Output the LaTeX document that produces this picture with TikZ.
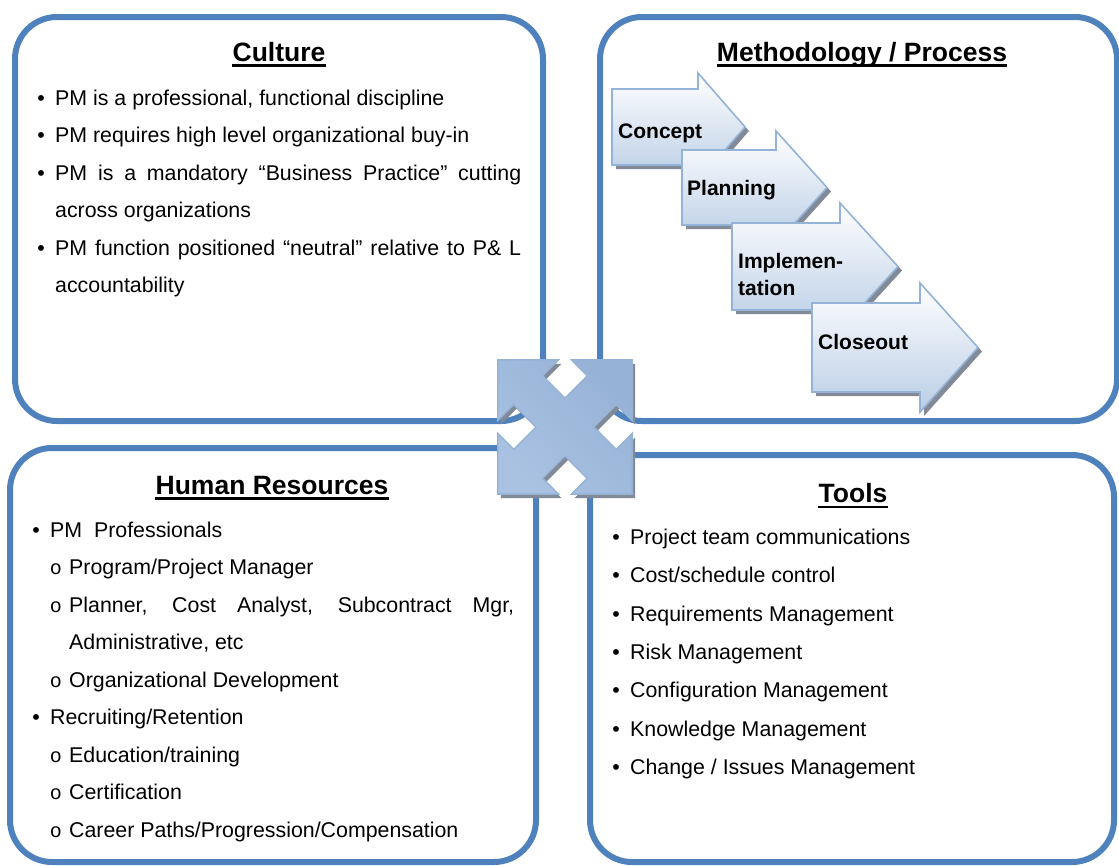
\documentclass[tikz,border=0pt]{standalone}
\usepackage{fontspec}
\setmainfont{Liberation Sans}
\newfontfamily\subbulletfont{Liberation Mono}
\usetikzlibrary{calc}
\definecolor{boxblue}{RGB}{79,129,189}
\definecolor{arrowedge}{RGB}{149,179,215}
\definecolor{arrowlow}{RGB}{185,205,229}
\definecolor{shadowgray}{RGB}{130,138,152}
\definecolor{crossdark}{RGB}{150,178,214}
\definecolor{crosslight}{RGB}{226,235,245}
\definecolor{crossmid}{RGB}{170,194,226}
\tikzset{
    panel/.style = {
        draw = boxblue,
        line width = 6pt,
        rounded corners = 42pt,
        },
    title/.style = {
        font = \fontsize{26.5}{32}\selectfont\bfseries,
        anchor = base,
        inner sep = 0pt,
        },
    title line/.style = {
        line width = 2.6pt,
        },
    entry/.style = {
        font = \fontsize{21.35}{25}\selectfont,
        anchor = base west,
        inner sep = 0pt,
        },
    dot/.style = {
        font = \fontsize{21.35}{25}\selectfont,
        anchor = base,
        inner sep = 0pt,
        },
    subdot/.style = {
        font = \fontsize{20}{25}\selectfont\subbulletfont,
        anchor = base,
        inner sep = 0pt,
        },
    stage arrow/.style = {
        preaction = {fill = shadowgray, transform canvas = {shift = {(4pt,-4pt)}}},
        draw = arrowedge,
        line width = 1.6pt,
        top color = white,
        bottom color = arrowlow,
        },
    stage label/.style = {
        font = \fontsize{21}{25}\selectfont\bfseries,
        anchor = base west,
        inner sep = 0pt,
        },
    cross/.style = {
        preaction = {fill = shadowgray, transform canvas = {shift = {(3pt,-4pt)}}},
        draw = arrowedge,
        line width = 1.4pt,
        top color = crossdark,
        middle color = crosslight,
        bottom color = crossmid,
        shading angle = -45,
        },
}
\begin{document}
\begin{tikzpicture}[x=1pt, y=-1pt]
    \useasboundingbox (0,0) rectangle (1119,865);

    % the four panels
    \draw[panel] (15,17) rectangle (543,421);
    \draw[panel] (600,17) rectangle (1117,421);
    \draw[panel] (10,448) rectangle (536,862);
    \draw[panel] (590,455) rectangle (1114,862);

    % culture
    \node[title] (culture) at (279,61) {Culture};
    \draw[title line] ([yshift=-4.5pt]culture.base west) -- ([yshift=-4.5pt]culture.base east);
    \node[dot] (cb1) at (41,105) {•};
    \node[entry] (c1) at (55,105) {PM is a professional, functional discipline};
    \node[dot] (cb2) at (41,142.5) {•};
    \node[entry] (c2) at (55,142.5) {PM requires high level organizational buy-in};
    \node[dot] (cb3) at (41,180) {•};
    \node[entry] (c3a) at (55,180) {\makebox[466pt][s]{PM is a mandatory “Business Practice” cutting}};
    \node[entry] (c3b) at (55,217.5) {across organizations};
    \node[dot] (cb4) at (41,255) {•};
    \node[entry] (c4a) at (55,255) {\makebox[466pt][s]{PM function positioned “neutral” relative to P\& L}};
    \node[entry] (c4b) at (55,292.5) {accountability};

    % methodology / process
    \node[title] (method) at (862,61) {Methodology / Process};
    \draw[title line] ([yshift=-4.5pt]method.base west) -- ([yshift=-4.5pt]method.base east);
    \path[stage arrow] (612,89) -- (698,89) -- (698,73) -- (745,127) -- (698,181) -- (698,165) -- (612,165) -- cycle;
    \node[stage label] (concept) at (618,138) {Concept};
    \path[stage arrow] (682,150) -- (776,150) -- (776,131) -- (827,187.5) -- (776,244) -- (776,225) -- (682,225) -- cycle;
    \node[stage label] (planning) at (687,195) {Planning};
    \path[stage arrow] (732,223) -- (840,223) -- (840,203) -- (898,266.5) -- (840,330) -- (840,310) -- (732,310) -- cycle;
    \node[stage label] (impl) at (738,268) {Implemen-};
    \node[stage label] (impltail) at (738,295) {tation};
    \path[stage arrow] (812,303) -- (920,303) -- (920,283) -- (978,347.5) -- (920,412) -- (920,392) -- (812,392) -- cycle;
    \node[stage label] (closeout) at (818,349) {Closeout};

    % human resources
    \node[title] (hr) at (272,494) {Human Resources};
    \draw[title line] ([yshift=-4.5pt]hr.base west) -- ([yshift=-4.5pt]hr.base east);
    \node[dot] (hb1) at (36,537) {•};
    \node[entry] (h1) at (50,537) {PM\ \ Professionals};
    \node[subdot] (hs1) at (56,574.5) {o};
    \node[entry] (h1a) at (69,574.5) {Program/Project Manager};
    \node[subdot] (hs2) at (56,612) {o};
    \node[entry] (h1b) at (69,612) {\makebox[445pt][s]{Planner, Cost Analyst, Subcontract Mgr,}};
    \node[entry] (h1bb) at (69,649.5) {Administrative, etc};
    \node[subdot] (hs3) at (56,687) {o};
    \node[entry] (h1c) at (69,687) {Organizational Development};
    \node[dot] (hb2) at (36,724.5) {•};
    \node[entry] (h2) at (50,724.5) {Recruiting/Retention};
    \node[subdot] (hs4) at (56,762) {o};
    \node[entry] (h2a) at (69,762) {Education/training};
    \node[subdot] (hs5) at (56,799.5) {o};
    \node[entry] (h2b) at (69,799.5) {Certification};
    \node[subdot] (hs6) at (56,837) {o};
    \node[entry] (h2c) at (69,837) {Career Paths/Progression/Compensation};

    % tools
    \node[title] (tools) at (853,502.5) {Tools};
    \draw[title line] ([yshift=-4.5pt]tools.base west) -- ([yshift=-4.5pt]tools.base east);
    \node[dot] (tb1) at (616,544.5) {•};
    \node[entry] (t1) at (630,544.5) {Project team communications};
    \node[dot] (tb2) at (616,582.8) {•};
    \node[entry] (t2) at (630,582.8) {Cost/schedule control};
    \node[dot] (tb3) at (616,621.1) {•};
    \node[entry] (t3) at (630,621.1) {Requirements Management};
    \node[dot] (tb4) at (616,659.4) {•};
    \node[entry] (t4) at (630,659.4) {Risk Management};
    \node[dot] (tb5) at (616,697.7) {•};
    \node[entry] (t5) at (630,697.7) {Configuration Management};
    \node[dot] (tb6) at (616,736) {•};
    \node[entry] (t6) at (630,736) {Knowledge Management};
    \node[dot] (tb7) at (616,774.3) {•};
    \node[entry] (t7) at (630,774.3) {Change / Issues Management};

    % four-way arrow in the middle
    \path[cross, shift={(565,427)}, rotate=45]
        (20.5,-20.5) -- (52,-20.5) -- (52,-43) -- (95,0) -- (52,43) -- (52,20.5)
        -- (20.5,20.5) -- (20.5,52) -- (43,52) -- (0,95) -- (-43,52) -- (-20.5,52)
        -- (-20.5,20.5) -- (-52,20.5) -- (-52,43) -- (-95,0) -- (-52,-43) -- (-52,-20.5)
        -- (-20.5,-20.5) -- (-20.5,-52) -- (-43,-52) -- (0,-95) -- (43,-52) -- (20.5,-52) -- cycle;
\end{tikzpicture}
\end{document}
